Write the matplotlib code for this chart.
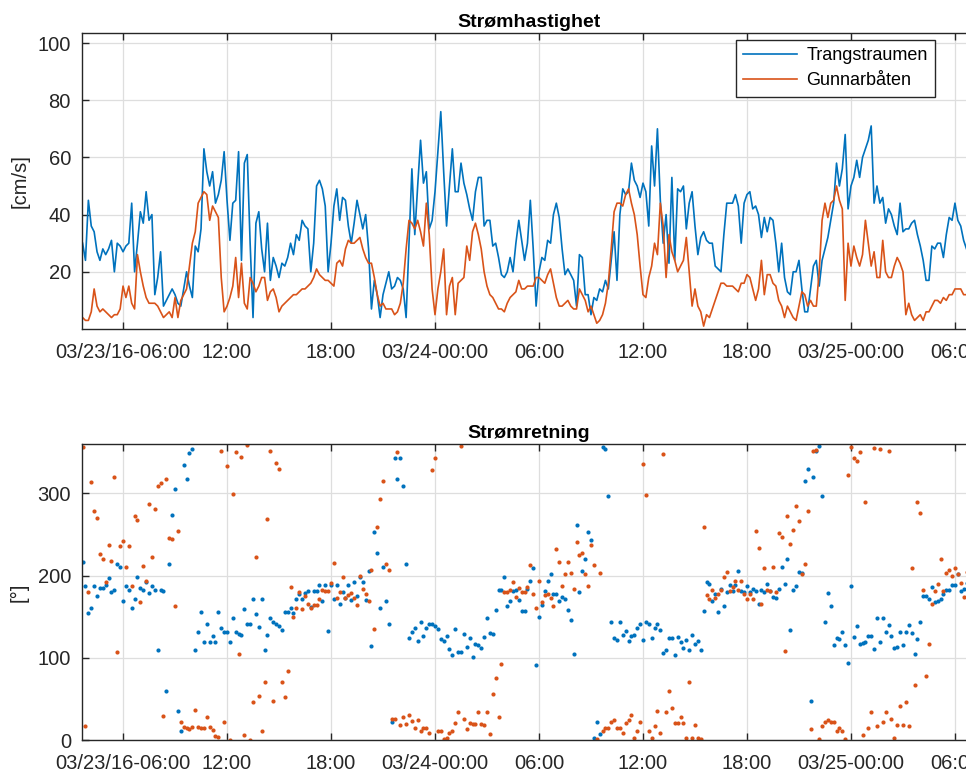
"""Strømhastighet og strømretning, Trangstraumen vs Gunnarbåten."""
import matplotlib
matplotlib.use("Agg")
import matplotlib.pyplot as plt
import numpy as np
import pandas as pd

plt.rcParams["font.family"] = ["Liberation Sans", "DejaVu Sans"]

# 10-minute samples, 03/23/16 03:40 -> 03/25/16 06:40
times = pd.date_range("2016-03-23 03:40", periods=307, freq="10min")

speed_trang = [
    30, 24, 45, 36, 34, 27, 24, 28, 26, 28, 31, 20, 30, 29, 27, 29, 30, 44, 20, 30,
    41, 37, 48, 38, 40, 12, 18, 27, 8, 10, 12, 14, 12, 9, 8, 14, 20, 15, 11, 29,
    27, 35, 63, 55, 50, 55, 44, 47, 52, 62, 45, 31, 44, 45, 62, 24, 58, 61, 30, 4,
    37, 41, 28, 20, 37, 17, 25, 22, 18, 23, 22, 25, 30, 26, 33, 31, 38,
    36, 35, 20, 30, 50, 52, 49, 43, 20, 30, 43, 49, 38, 46, 45, 36, 30, 37, 45, 40,
    35, 40, 28, 7, 17, 12, 4, 12, 16, 20, 14, 15, 18, 17, 14, 4, 30, 56, 33, 50,
    66, 51, 55, 35, 38, 48, 62, 76, 55, 36, 50, 63, 48, 48, 58, 51, 47, 42, 38, 48,
    53, 53, 36, 38, 38, 29, 30, 25, 19, 18, 20, 25, 20, 30, 38, 31,
    24, 30, 45, 28, 8, 20, 25, 24, 31, 30, 40, 44, 39, 28, 19, 21, 19, 17, 8, 26,
    25, 12, 12, 5, 11, 10, 14, 13, 17, 14, 24, 34, 17, 40, 49, 47, 48, 58, 52, 50,
    46, 51, 48, 36, 64, 50, 70, 45, 30, 40, 23, 53, 24, 49, 48, 50, 35, 44, 48, 36,
    26, 32, 34, 31, 30, 30, 22, 21, 20, 33, 44, 44, 44, 47, 43, 30,
    44, 47, 48, 42, 43, 40, 32, 39, 34, 39, 38, 30, 20, 30, 18, 13, 12, 20, 20, 24,
    14, 6, 6, 14, 22, 24, 15, 24, 28, 32, 38, 44, 58, 50, 56, 68, 42, 50, 53, 59,
    53, 60, 63, 66, 71, 44, 50, 44, 46, 37, 42, 40, 36, 33, 44, 34, 35, 35, 37, 38,
    33, 29, 24, 17, 17, 29, 28, 30, 30, 25, 33, 39, 38, 44, 38, 36, 31, 28,
]
speed_gunnar = [
    4, 3, 3, 6, 14, 8, 6, 7, 6, 5, 4, 5, 5, 7, 15, 11, 15, 9, 7, 26,
    20, 15, 11, 9, 9, 9, 8, 6, 4, 5, 6, 4, 11, 4, 10, 12, 14, 22, 30, 34,
    44, 46, 48, 47, 38, 43, 41, 39, 18, 6, 8, 11, 15, 25, 11, 23, 9, 7, 18, 16,
    13, 15, 18, 18, 10, 13, 14, 11, 6, 8, 9, 10, 11, 12, 12, 13, 14,
    14, 15, 16, 18, 21, 19, 18, 17, 17, 16, 15, 23, 24, 22, 28, 31, 30, 30, 31, 32,
    28, 25, 23, 23, 18, 12, 8, 9, 7, 7, 7, 5, 6, 9, 16, 28, 38, 37, 35, 38,
    34, 29, 44, 33, 14, 5, 14, 20, 28, 5, 15, 18, 5, 16, 17, 18, 29, 24, 34, 37,
    33, 28, 20, 15, 12, 11, 9, 7, 7, 6, 9, 11, 12, 13, 17, 14,
    14, 15, 15, 15, 18, 18, 17, 16, 19, 21, 16, 11, 8, 8, 9, 10, 8, 7, 7, 14,
    12, 10, 6, 8, 5, 2, 3, 5, 9, 16, 28, 41, 44, 44, 43, 47, 49, 44, 40, 33,
    22, 12, 11, 18, 22, 30, 26, 44, 36, 18, 33, 27, 24, 20, 22, 24, 32, 20, 8, 14,
    8, 6, 1, 5, 4, 7, 10, 13, 16, 16, 15, 15, 15, 14, 13, 16,
    16, 19, 18, 14, 10, 14, 24, 12, 19, 19, 16, 15, 10, 8, 4, 8, 6, 4, 3, 8,
    13, 12, 8, 10, 8, 8, 20, 38, 44, 39, 44, 45, 50, 45, 42, 10, 30, 22, 29, 25,
    22, 26, 38, 30, 22, 27, 18, 18, 31, 20, 18, 18, 22, 25, 23, 20, 5, 9, 5, 3,
    4, 5, 3, 6, 6, 8, 10, 10, 9, 11, 10, 12, 12, 14, 14, 14, 12, 12,
]
dir_trang = [
    217, 187, 155, 160, 187, 175, 185, 185, 188, 197, 180, 183, 214, 211, 169, 187, 183, 161, 171, 198,
    185, 183, 192, 179, 187, 183, 110, 182, 181, 59, 214, 274, 305, 35, 11, 334, 317, 349, 354, 110,
    131, 156, 119, 141, 119, 127, 119, 156, 136, 131, 131, 119, 148, 131, 129, 128, 159, 141, 141, 171,
    153, 138, 172, 109, 128, 148, 143, 141, 139, 134, 156, 156, 161, 154, 171, 178, 171,
    179, 181, 162, 181, 181, 189, 169, 189, 132, 189, 171, 189, 165, 180, 173, 189, 170, 192, 175, 198,
    192, 170, 205, 114, 253, 228, 161, 211, 169, 141, 22, 343, 318, 343, 309, 214, 124, 131, 136, 120,
    144, 127, 136, 141, 141, 139, 135, 123, 120, 126, 111, 103, 135, 107, 107, 129, 113, 124, 101, 117,
    116, 112, 125, 148, 130, 129, 158, 183, 183, 198, 163, 169, 181, 183, 170, 157,
    157, 184, 193, 209, 91, 150, 164, 181, 194, 202, 178, 177, 169, 174, 172, 158, 146, 104, 261, 180,
    206, 220, 253, 243, 2, 22, 7, 356, 354, 297, 143, 124, 122, 143, 128, 133, 120, 126, 128, 136,
    141, 122, 144, 141, 124, 136, 141, 134, 106, 110, 124, 124, 103, 125, 119, 112, 122, 109, 128, 117,
    120, 109, 157, 192, 190, 169, 178, 156, 184, 163, 180, 189, 181, 188, 206, 181,
    180, 187, 180, 184, 181, 166, 183, 180, 190, 181, 174, 173, 184, 210, 190, 220, 134, 183, 187, 204,
    203, 315, 330, 47, 320, 352, 358, 297, 144, 179, 163, 116, 124, 123, 131, 116, 94, 187, 125, 139,
    117, 118, 119, 126, 127, 111, 148, 119, 148, 131, 140, 127, 112, 113, 131, 116, 131, 140, 130, 104,
    123, 143, 175, 175, 171, 186, 168, 169, 172, 178, 182, 183, 189, 189, 202, 181, 184, 191,
]
dir_gunnar = [
    356, 17, 180, 314, 278, 270, 226, 220, 192, 237, 218, 320, 107, 236, 242, 210, 236, 187, 272, 267,
    168, 212, 194, 287, 222, 281, 309, 313, 29, 317, 246, 244, 163, 254, 22, 16, 15, 13, 16, 36,
    16, 15, 15, 28, 16, 12, 5, 4, 351, 22, 333, 0, 299, 350, 104, 344, 6, 359, 0, 46,
    222, 53, 11, 70, 269, 352, 48, 337, 330, 70, 52, 84, 186, 150, 160, 180, 159,
    175, 166, 161, 164, 164, 171, 183, 181, 181, 191, 215, 173, 180, 198, 173, 176, 179, 173, 164, 200,
    184, 178, 169, 207, 135, 259, 293, 315, 214, 207, 26, 26, 350, 18, 28, 20, 30, 23, 15, 24,
    11, 14, 15, 9, 328, 343, 11, 11, 1, 3, 9, 11, 21, 34, 358, 26, 13, 21, 20, 20,
    34, 20, 18, 34, 7, 56, 76, 28, 93, 180, 180, 183, 192, 174, 185, 180,
    180, 186, 213, 178, 161, 194, 168, 176, 178, 173, 163, 232, 217, 187, 202, 216, 203, 184, 241, 225,
    227, 202, 187, 237, 213, 1, 203, 11, 15, 15, 22, 24, 15, 14, 9, 21, 24, 30, 3, 11,
    22, 336, 298, 11, 2, 17, 35, 9, 348, 34, 59, 39, 21, 21, 28, 21, 2, 70, 2, 18,
    2, 1, 259, 176, 172, 182, 173, 177, 183, 198, 204, 181, 186, 194, 183, 193,
    178, 171, 177, 172, 254, 234, 166, 209, 182, 181, 210, 180, 252, 247, 108, 272, 239, 255, 285, 266,
    202, 214, 278, 13, 352, 353, 1, 17, 22, 24, 22, 22, 11, 15, 11, 1, 322, 356, 343, 339,
    350, 6, 289, 15, 34, 355, 17, 354, 22, 34, 351, 26, 2, 18, 41, 18, 46, 17, 209, 67,
    290, 276, 182, 78, 117, 166, 181, 190, 220, 181, 203, 207, 200, 209, 202, 191, 174, 204,
]

tick_times = pd.date_range("2016-03-23 06:00", "2016-03-25 06:00", freq="6h")
tick_labels = ["03/23/16-06:00", "12:00", "18:00", "03/24-00:00", "06:00",
               "12:00", "18:00", "03/25-00:00", "06:00"]

blue = "#0072BD"
orange = "#D95319"
dark = "#262626"

fig = plt.figure(figsize=(9.66, 7.71), dpi=100)
ax1 = fig.add_axes([0.0849, 0.5733, 0.9255, 0.3839])
ax2 = fig.add_axes([0.0849, 0.0402, 0.9255, 0.3839])

ax1.plot(times, speed_trang, color=blue, lw=1.2, label="Trangstraumen")
ax1.plot(times, speed_gunnar, color=orange, lw=1.2, label="Gunnarbåten")
ax1.set_ylim(0, 103.5)
ax1.set_yticks([20, 40, 60, 80, 100])
ax1.set_ylabel("[cm/s]", fontsize=14.5, color=dark, labelpad=6)
ax1.set_title("Strømhastighet", fontsize=14, fontweight="bold", pad=4)
leg = ax1.legend(loc="upper right", bbox_to_anchor=(0.954, 0.976), fontsize=13,
                 fancybox=False, edgecolor=dark, framealpha=1, handlelength=3.0,
                 borderaxespad=0, borderpad=0.4, labelspacing=0.45, handletextpad=0.5)
leg.get_frame().set_linewidth(1.0)

ax2.scatter(times, dir_trang, s=9, color=blue, linewidths=0)
ax2.scatter(times, dir_gunnar, s=9, color=orange, linewidths=0)
ax2.set_ylim(0, 360)
ax2.set_yticks([0, 100, 200, 300])
ax2.set_ylabel("[°]", fontsize=14.5, color=dark, labelpad=6)
ax2.set_title("Strømretning", fontsize=14, fontweight="bold", pad=4)

xmin = pd.Timestamp("2016-03-23 03:38")
xmax = pd.Timestamp("2016-03-25 07:13")
for ax in (ax1, ax2):
    ax.set_xlim(xmin, xmax)
    ax.set_xticks(tick_times)
    ax.set_xticklabels(tick_labels)
    ax.grid(True, color="#dedede", lw=0.9)
    ax.set_axisbelow(True)
    ax.tick_params(direction="in", length=5, width=1, colors=dark, labelsize=14.5,
                   top=True, right=True)
    ax.tick_params(axis="x", pad=10)
    ax.tick_params(axis="y", pad=8)
    for sp in ax.spines.values():
        sp.set_color(dark)
        sp.set_linewidth(1.0)

fig.savefig("out.png", dpi=100)
